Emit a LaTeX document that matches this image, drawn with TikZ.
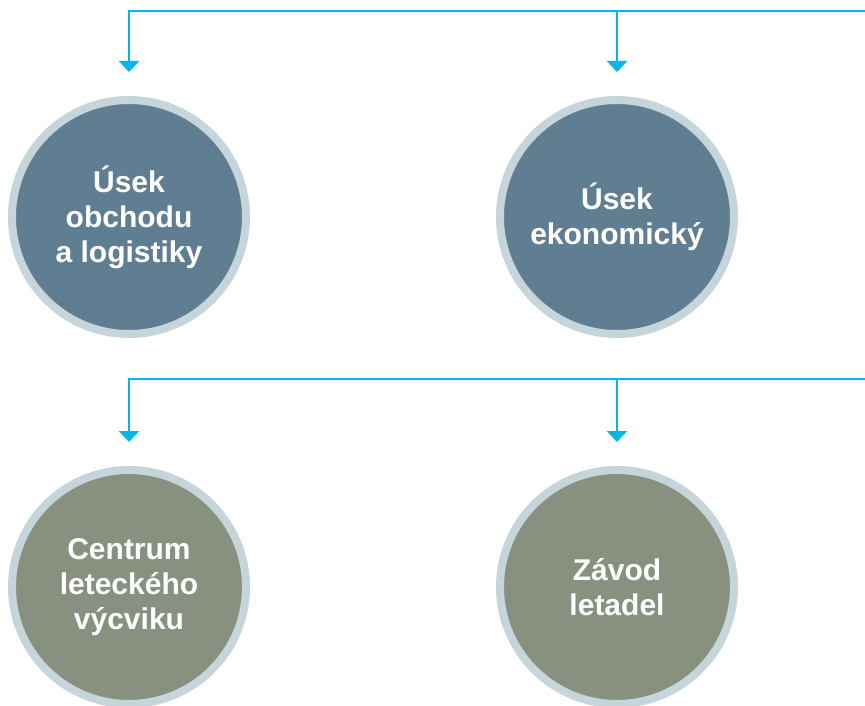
\documentclass[tikz,border=0pt]{standalone}
\usepackage{fontspec}
\setmainfont{Liberation Sans}
\usepackage{xcolor}
\usepackage{tikz}
\usetikzlibrary{arrows.meta}
\usetikzlibrary{calc}

\definecolor{linka}{RGB}{0,183,229}
\definecolor{obruc}{RGB}{197,213,218}
\definecolor{usek}{RGB}{96,126,145}
\definecolor{zavod}{RGB}{136,145,128}

\begin{document}
\begin{tikzpicture}[x=1pt,y=-1pt,
	kruh/.style={circle,draw=obruc,line width=8pt,minimum size=234pt,inner sep=0pt,outer sep=4pt,
		text=white,align=center,font=\fontsize{30}{35}\selectfont\bfseries},
	linka/.style={draw=linka,line width=2.8pt,-{Triangle[width=20pt,length=11pt]},shorten >=24pt}]
	\useasboundingbox (0,0) rectangle (865,706);
	%useky
	\node[kruh,fill=usek] (obchod) at (129,217) {Úsek\\obchodu\\a logistiky};
	\node[kruh,fill=usek] (ekonom) at (617,217) {Úsek\\ekonomický};
	%zavody
	\node[kruh,fill=zavod] (centrum) at (129,587) {Centrum\\leteckého\\výcviku};
	\node[kruh,fill=zavod] (zavod) at (617,587) {Závod\\letadel};
	
	\coordinate (sbernA) at (865,11);
	\coordinate (sbernB) at (865,379);
	\draw[linka] (sbernA) -| (obchod.north);
	\draw[linka] (ekonom.north |- sbernA) -- (ekonom.north);
	\draw[linka] (sbernB) -| (centrum.north);
	\draw[linka] (zavod.north |- sbernB) -- (zavod.north);
\end{tikzpicture}
\end{document}
